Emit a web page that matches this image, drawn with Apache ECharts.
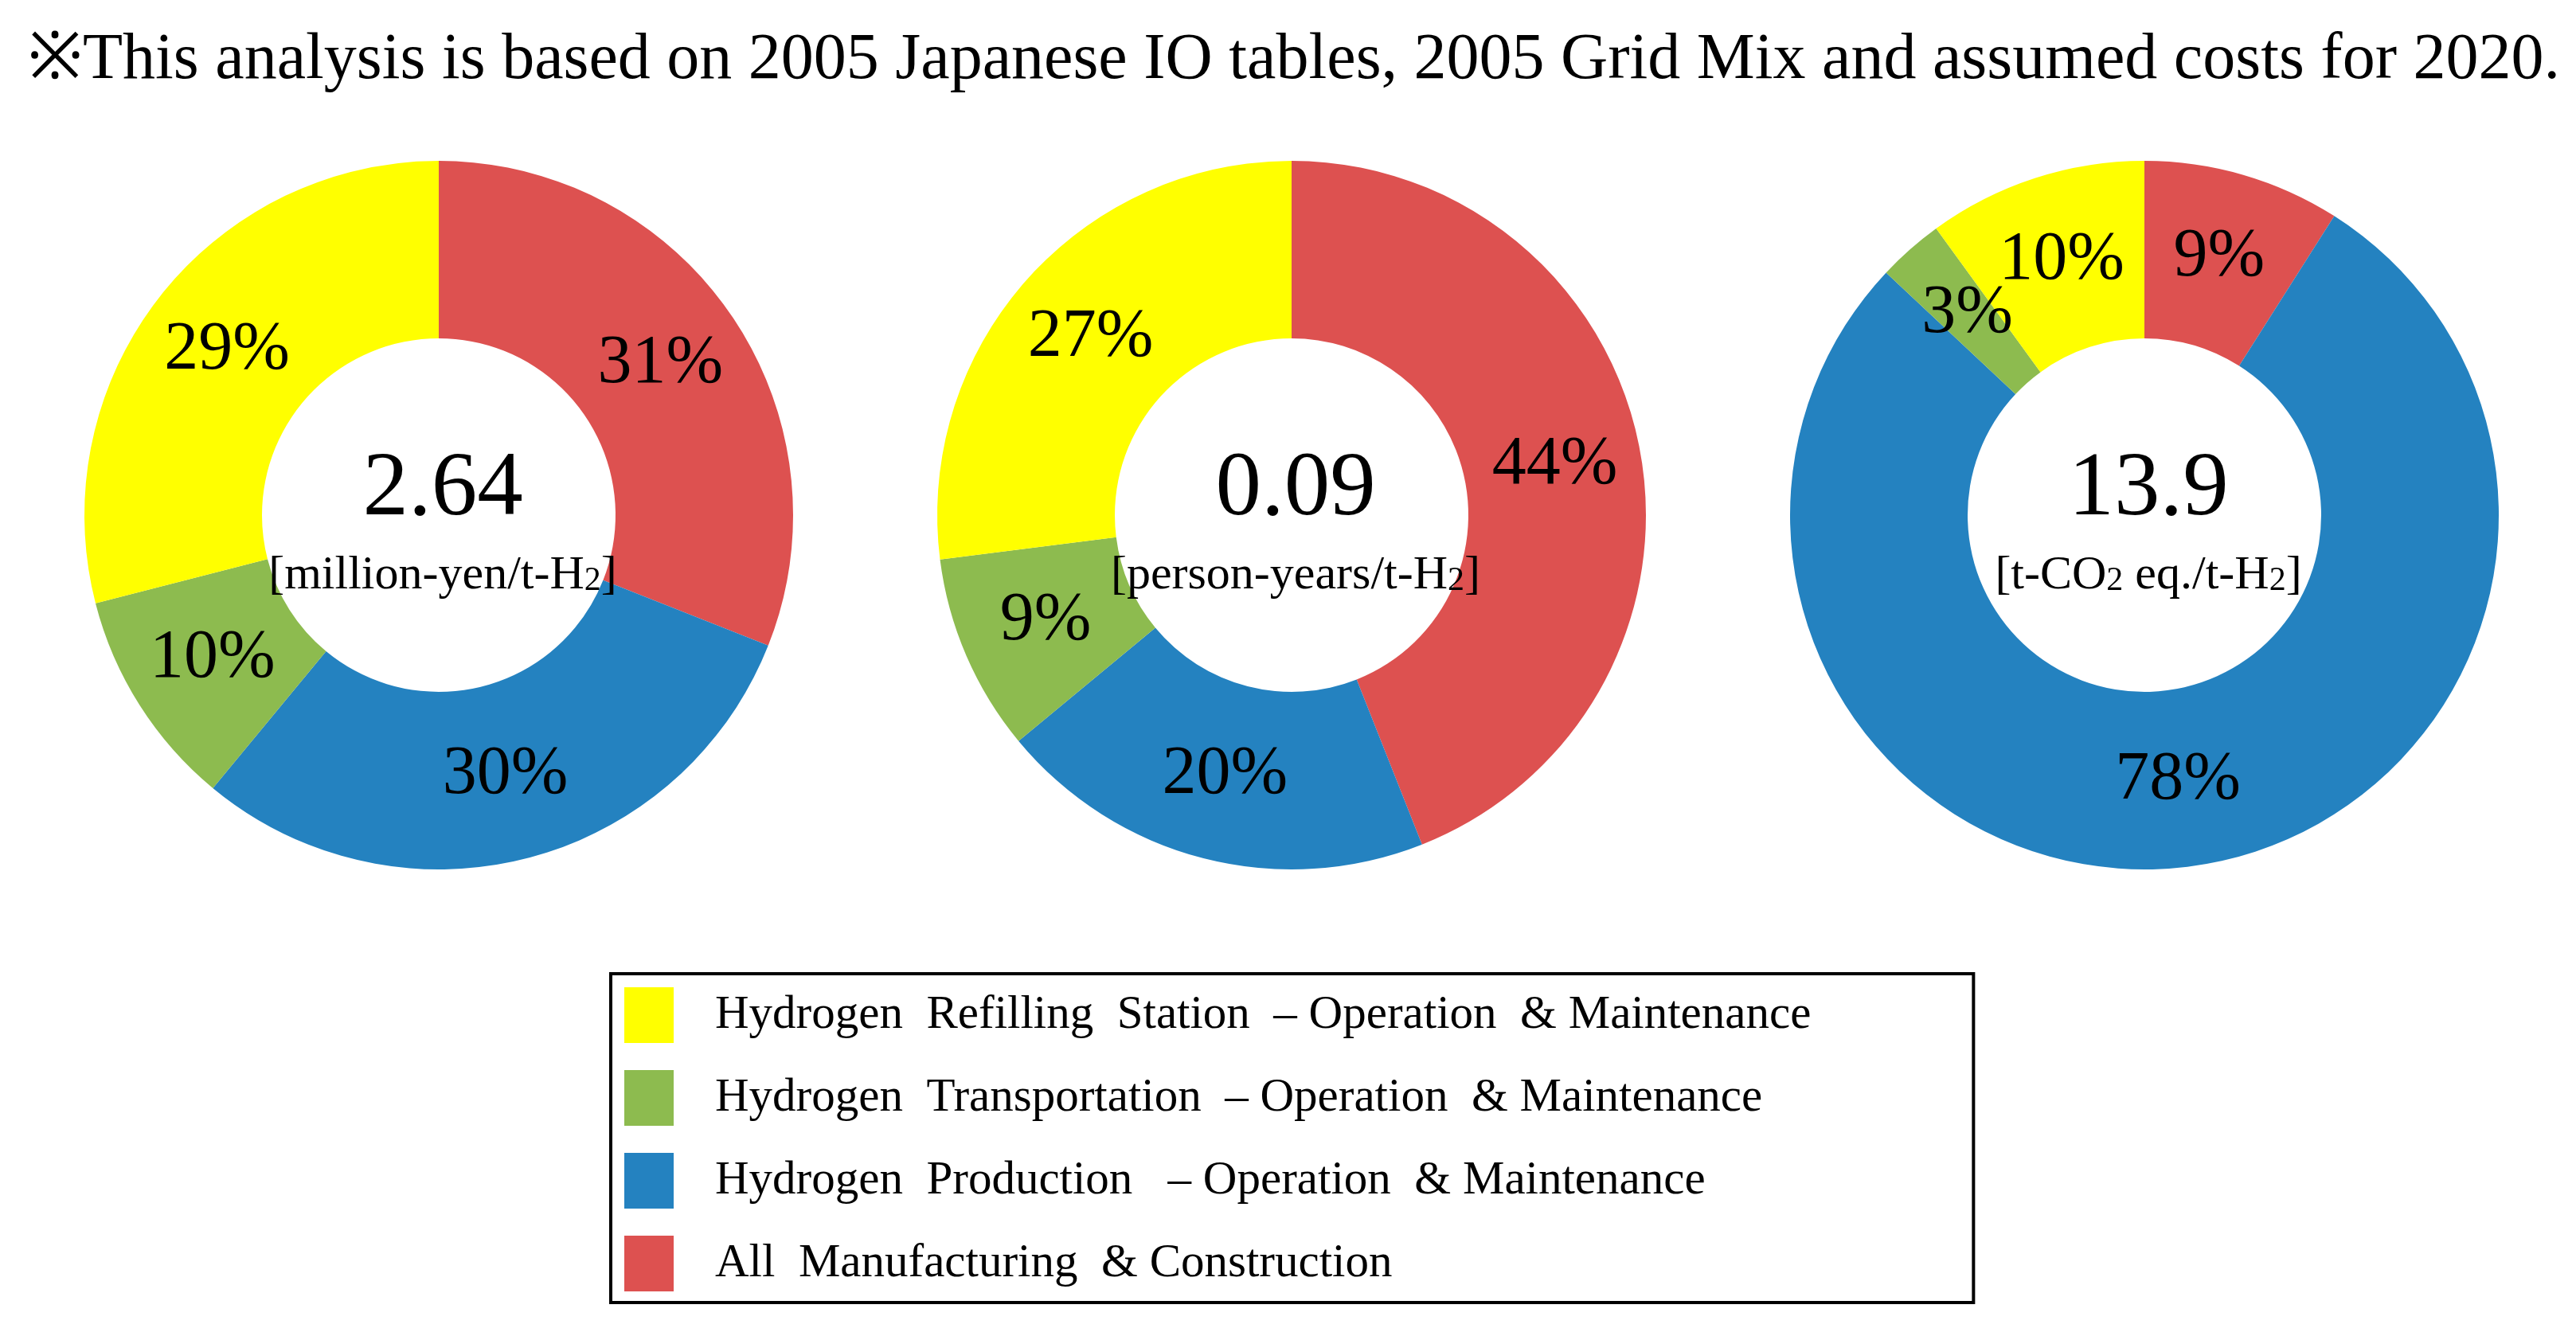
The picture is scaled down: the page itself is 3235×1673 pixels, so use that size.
<!DOCTYPE html>
<html>
<head>
<meta charset="utf-8">
<script src="https://cdn.jsdelivr.net/npm/echarts@6/dist/echarts.min.js"></script>
<style>
html,body{margin:0;padding:0;background:#fff;}
#chart{width:3235px;height:1673px;}
</style>
</head>
<body>
<div id="chart"></div>
<script>
// ---- data ----
const categories = [
  'All Manufacturing & Construction',
  'Hydrogen Production – Operation & Maintenance',
  'Hydrogen Transportation – Operation & Maintenance',
  'Hydrogen Refilling Station – Operation & Maintenance'
];
const legendLabels = {
  'Hydrogen Refilling Station – Operation & Maintenance': 'Hydrogen  Refilling  Station  – Operation  & Maintenance',
  'Hydrogen Transportation – Operation & Maintenance': 'Hydrogen  Transportation  – Operation  & Maintenance',
  'Hydrogen Production – Operation & Maintenance': 'Hydrogen  Production   – Operation  & Maintenance',
  'All Manufacturing & Construction': 'All  Manufacturing  & Construction'
};
const costShares = [31, 30, 10, 29];        // million-yen/t-H2
const employmentShares = [44, 20, 9, 27];   // person-years/t-H2
const ghgShares = [9, 78, 3, 10];           // t-CO2 eq./t-H2
const totals = ['2.64', '0.09', '13.9'];
const units = [
  '{a|[million-yen/t-H}{s|2}{a|]}',
  '{a|[person-years/t-H}{s|2}{a|]}',
  '{a|[t-CO}{s|2}{a| eq./t-H}{s|2}{a|]}'
];
const titleText = '※This analysis is based on 2005 Japanese IO tables, 2005 Grid Mix and assumed costs for 2020.';
const colors = ['#DD5150', '#2482C0', '#8DBB4F', '#FFFF00'];

// ---- layout ----
const FONT = '"Liberation Serif", "Times New Roman", serif';
const centersX = [551, 1622, 2693];
const centerY = 647;
const seriesData = [costShares, employmentShares, ghgShares];

const chart = echarts.init(document.getElementById('chart'));

const series = seriesData.map((vals, i) => ({
  type: 'pie',
  center: [centersX[i], centerY],
  radius: [222, 445],
  startAngle: 90,
  clockwise: true,
  silent: true,
  avoidLabelOverlap: false,
  minShowLabelAngle: 0,
  itemStyle: { borderWidth: 0 },
  label: {
    show: true,
    position: 'inside',
    formatter: '{c}%',
    color: '#000',
    fontSize: 86,
    fontFamily: FONT,
    rotate: 0.01
  },
  labelLayout: { hideOverlap: false },
  labelLine: { show: false },
  emphasis: { disabled: true },
  data: categories.map((c, k) => ({ name: c, value: vals[k], itemStyle: { color: colors[k] } }))
}));

const titles = [{
  text: titleText,
  left: 30,
  top: 30,
  textStyle: { fontFamily: FONT, fontSize: 82, fontWeight: 'normal', color: '#000' }
}];
totals.forEach((t, i) => {
  titles.push({
    text: t,
    left: centersX[i],
    top: centerY - 36,
    textAlign: 'center',
    textVerticalAlign: 'middle',
    textStyle: { fontFamily: FONT, fontSize: 115, fontWeight: 'normal', color: '#000' }
  });
  titles.push({
    text: units[i],
    left: centersX[i],
    top: centerY + 69,
    textAlign: 'center',
    textVerticalAlign: 'middle',
    textStyle: {
      fontWeight: 'normal',
      rich: {
        a: { fontFamily: FONT, fontSize: 60, fontWeight: 'normal', color: '#000', lineHeight: 64, verticalAlign: 'bottom' },
        s: { fontFamily: FONT, fontSize: 42, fontWeight: 'normal', color: '#000', lineHeight: 64, verticalAlign: 'bottom', padding: [0, 0, 2, 0] }
      }
    }
  });
});

chart.setOption({
  animation: false,
  backgroundColor: '#fff',
  title: titles,
  legend: {
    orient: 'vertical',
    left: 767,
    top: 1223,
    data: [categories[3], categories[2], categories[1], categories[0]],
    icon: 'rect',
    itemWidth: 62,
    itemHeight: 70,
    itemGap: 34,
    borderColor: '#000',
    borderWidth: 4,
    borderRadius: 0,
    padding: [17, 204, 14, 17],
    selectedMode: false,
    formatter: n => legendLabels[n],
    textStyle: { fontFamily: FONT, fontSize: 59, color: '#000', padding: [0, 0, 0, 47] }
  },
  series: series
});
</script>
</body>
</html>
